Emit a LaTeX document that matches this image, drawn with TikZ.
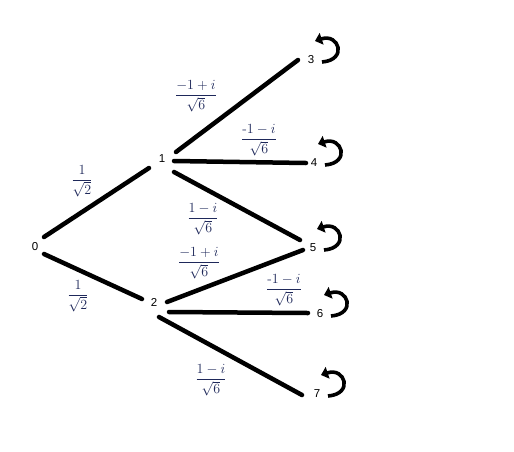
\documentclass[tikz,border=0pt]{standalone}
\usepackage{fix-cm}
\usepackage{fontspec}
\setsansfont{Liberation Sans}
\usetikzlibrary{arrows.meta}
\definecolor{fracblue}{RGB}{30,40,90}
\newcommand\myloop[1]{\draw[selfloop] ([shift={(11,2)}]#1.center) .. controls +(26,-2) and +(24,-8) .. ([shift={(4,-19)}]#1.center);}
\begin{document}
\begin{tikzpicture}[x=1pt,y=-1pt,
  vlabel/.style={font=\sffamily\fontsize{11.5}{13}\selectfont, inner sep=0pt},
  wlabel/.style={font=\fontsize{14}{16}\selectfont, text=fracblue, inner sep=0pt},
  edge/.style={line width=4.5pt, line cap=round},
  selfloop/.style={line width=3.6pt, -{Triangle[length=7pt,width=12pt]}}]
\useasboundingbox[fill=white] (0,0) rectangle (514,451);
% vertices
\node[vlabel] (n0) at (35,247) {0};
\node[vlabel] (n1) at (162,159) {1};
\node[vlabel] (n2) at (154,302) {2};
\node[vlabel] (n3) at (311,60) {3};
\node[vlabel] (n4) at (314,163) {4};
\node[vlabel] (n5) at (313,248) {5};
\node[vlabel] (n6) at (320,314) {6};
\node[vlabel] (n7) at (317,394) {7};
% edges
\draw[edge] ([shift={(9,-10)}]n0.center) -- ([shift={(-13,9)}]n1.center);
\draw[edge] ([shift={(9,7)}]n0.center) -- ([shift={(-12,-3)}]n2.center);
\draw[edge] ([shift={(14,-7)}]n1.center) -- ([shift={(-13,0)}]n3.center);
\draw[edge] ([shift={(12,2)}]n1.center) -- ([shift={(-8,0)}]n4.center);
\draw[edge] ([shift={(12,13)}]n1.center) -- ([shift={(-13,-8)}]n5.center);
\draw[edge] ([shift={(13,0)}]n2.center) -- ([shift={(-10,2)}]n5.center);
\draw[edge] ([shift={(15,10)}]n2.center) -- ([shift={(-12,-1)}]n6.center);
\draw[edge] ([shift={(5,15)}]n2.center) -- ([shift={(-15,1)}]n7.center);
% weights
\node[wlabel] (w01) at (82,181) {$\displaystyle\frac{1}{\sqrt{2}}$};
\node[wlabel] (w02) at (78,296) {$\displaystyle\frac{1}{\sqrt{2}}$};
\node[wlabel] (w13) at (196,96) {$\displaystyle\frac{-1+i}{\sqrt{6}}$};
\node[wlabel] (w14) at (259,140) {$\displaystyle\frac{\mbox{-}1-i}{\sqrt{6}}$};
\node[wlabel] (w15) at (203,219) {$\displaystyle\frac{1-i}{\sqrt{6}}$};
\node[wlabel] (w25) at (199,263) {$\displaystyle\frac{-1+i}{\sqrt{6}}$};
\node[wlabel] (w26) at (284,290) {$\displaystyle\frac{\mbox{-}1-i}{\sqrt{6}}$};
\node[wlabel] (w27) at (211,380) {$\displaystyle\frac{1-i}{\sqrt{6}}$};
% self loops
\myloop{n3}
\myloop{n4}
\myloop{n5}
\myloop{n6}
\myloop{n7}
\end{tikzpicture}
\end{document}
